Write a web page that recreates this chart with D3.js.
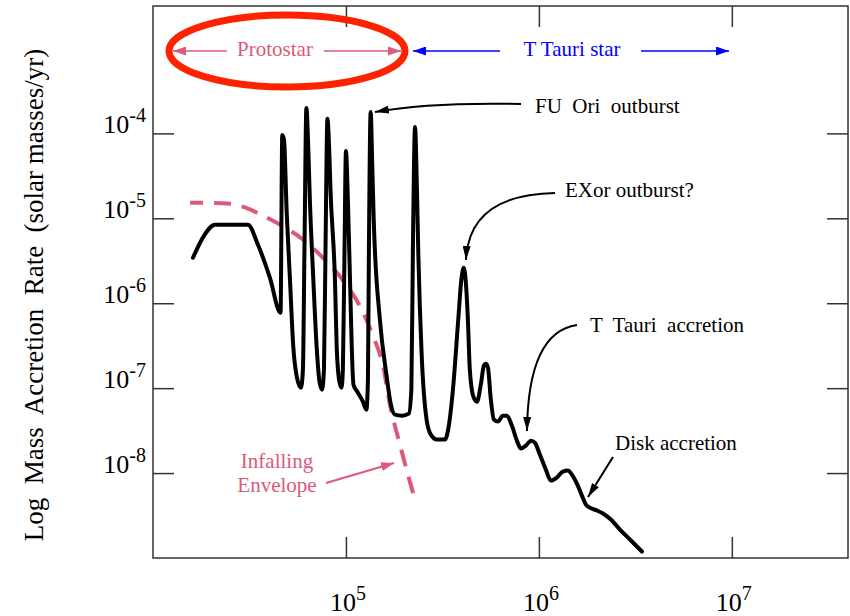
<!DOCTYPE html>
<html>
<head>
<meta charset="utf-8">
<script src="https://cdn.jsdelivr.net/npm/d3@7"></script>
<style>
    body { margin: 0; background: #fff; }
    text { font-family: "Liberation Serif", "Times New Roman", serif; }
</style>
</head>
<body>
<div id="chart"></div>
<script>
// black curve: log10(years), log10(solar masses / yr)
const accLogT = [
    4.207, 4.264, 4.321, 4.492, 4.544, 4.606, 4.661,
    4.670, 4.679, 4.693, 4.710, 4.727, 4.746, 4.767,
    4.777, 4.785, 4.795, 4.805, 4.813, 4.831, 4.848, 4.863, 4.876,
    4.886, 4.894, 4.904, 4.915, 4.920, 4.943, 4.952, 4.966, 4.977,
    4.984, 4.992, 5.000, 5.010, 5.021, 5.030, 5.039, 5.062, 5.088, 5.106,
    5.114, 5.119, 5.128, 5.137, 5.144, 5.176, 5.211, 5.233, 5.254, 5.290, 5.326,
    5.339, 5.347, 5.358, 5.368, 5.375, 5.392, 5.418, 5.440, 5.472, 5.513,
    5.534, 5.556, 5.582, 5.598, 5.611, 5.624, 5.632, 5.642, 5.660, 5.679,
    5.699, 5.715, 5.725, 5.736, 5.751, 5.767, 5.788, 5.813, 5.834, 5.860,
    5.886, 5.907, 5.933, 5.959, 5.979, 6.005, 6.036, 6.062, 6.093, 6.124,
    6.150, 6.171, 6.197, 6.223, 6.244, 6.264, 6.301, 6.332, 6.373, 6.420,
    6.477, 6.534
];
const accLogRate = [
    -5.465, -5.206, -5.076, -5.076, -5.312, -5.700, -6.112,
    -4.018, -4.076, -4.935, -5.724, -6.508, -6.876, -6.994,
    -6.782, -5.371, -3.700, -4.194, -4.782, -5.724, -6.508, -6.924, -7.018,
    -6.782, -5.371, -3.829, -4.312, -4.665, -5.724, -6.508, -6.924, -6.994,
    -6.782, -5.488, -4.206, -4.782, -5.724, -6.508, -6.959, -7.053, -7.159, -7.253,
    -6.900, -5.371, -3.747, -4.429, -5.018, -6.194, -6.861, -7.194, -7.312, -7.324, -7.300,
    -7.018, -5.371, -3.924, -4.665, -5.406, -6.582, -7.371, -7.547, -7.606, -7.606,
    -7.429, -6.979, -6.194, -5.724, -5.582, -5.841, -6.194, -6.782, -7.096, -7.159,
    -6.959, -6.735, -6.712, -6.759, -7.135, -7.371, -7.394, -7.324, -7.324, -7.441,
    -7.618, -7.712, -7.676, -7.618, -7.641, -7.782, -7.959, -8.088, -8.053, -7.982,
    -7.971, -8.018, -8.124, -8.265, -8.371, -8.406, -8.441, -8.476, -8.547, -8.665,
    -8.794, -8.924
];

// pink dashed infalling envelope
const envLogT = [4.192, 4.295, 4.408, 4.485, 4.571, 4.675, 4.779, 4.882, 4.986,
    5.073, 5.141, 5.193, 5.228, 5.280, 5.321, 5.358];
const envLogRate = [-4.818, -4.818, -4.829, -4.880, -4.971, -5.096, -5.253, -5.468, -5.735,
    -6.038, -6.391, -6.744, -7.194, -7.665, -8.018, -8.312];

const xTicks = [1e5, 1e6, 1e7];
const xTickExp = ["5", "6", "7"];
const yTicks = [1e-4, 1e-5, 1e-6, 1e-7, 1e-8];
const yTickExp = ["-4", "-5", "-6", "-7", "-8"];

const width = 850;
const height = 616;
const margin = { top: 6, right: 2, bottom: 58, left: 153 };

const pink = "#dc5a78";

const svg = d3.select("#chart")
    .append("svg")
    .attr("width", width)
    .attr("height", height);

const x = d3.scaleLog()
    .domain([1e4, 4e7])
    .range([margin.left, width - margin.right]);

const y = d3.scaleLog()
    .domain([1e-9, Math.pow(10, -2.5)])
    .range([height - margin.bottom, margin.top]);

const defs = svg.append("defs");
function marker(id, color, w, h) {
    defs.append("marker")
        .attr("id", id)
        .attr("viewBox", `0 0 ${w} ${h}`)
        .attr("refX", w)
        .attr("refY", h / 2)
        .attr("markerWidth", w)
        .attr("markerHeight", h)
        .attr("markerUnits", "userSpaceOnUse")
        .attr("orient", "auto")
        .append("path")
        .attr("d", `M0,0L${w},${h / 2}L0,${h}Z`)
        .attr("fill", color);
}
marker("headPink", pink, 13, 9);
marker("headBlue", "#0000ff", 13, 9);
marker("headBlack", "#000", 14, 8);

// ticks on all four sides, pointing in
function tickAxis(axis, transform) {
    const g = svg.append("g")
        .attr("transform", transform)
        .call(axis.tickSize(-21).tickFormat(() => ""));
    g.select(".domain").remove();
    g.selectAll(".tick line").attr("stroke", "#333").attr("stroke-width", 1.5);
    return g;
}
tickAxis(d3.axisBottom(x).tickValues(xTicks), `translate(0,${height - margin.bottom})`);
tickAxis(d3.axisTop(x).tickValues(xTicks), `translate(0,${margin.top})`);
tickAxis(d3.axisLeft(y).tickValues(yTicks), `translate(${margin.left},0)`);
tickAxis(d3.axisRight(y).tickValues(yTicks), `translate(${width - margin.right},0)`);

svg.append("rect")
    .attr("x", margin.left)
    .attr("y", margin.top)
    .attr("width", width - margin.right - margin.left)
    .attr("height", height - margin.bottom - margin.top)
    .attr("fill", "none")
    .attr("stroke", "#333")
    .attr("stroke-width", 1.5);

// tick labels 10^n
xTicks.forEach((v, i) => {
    const t = svg.append("text")
        .attr("x", x(v) + 2)
        .attr("y", 611)
        .attr("text-anchor", "middle");
    t.append("tspan").attr("font-size", 26).text("10");
    t.append("tspan").attr("font-size", 20).attr("dy", -11).text(xTickExp[i]);
});
yTicks.forEach((v, i) => {
    const t = svg.append("text")
        .attr("x", 146)
        .attr("y", y(v))
        .attr("text-anchor", "end");
    t.append("tspan").attr("font-size", 26).text("10");
    t.append("tspan").attr("font-size", 20).attr("dy", -11).text(yTickExp[i]);
});

svg.append("text")
    .attr("transform", "translate(43,295) rotate(-90)")
    .attr("text-anchor", "middle")
    .attr("font-size", 27)
    .style("white-space", "pre")
    .text("Log  Mass  Accretion  Rate  (solar masses/yr)");

// curves
const accData = accLogT.map((t, i) => ({ t: Math.pow(10, t), r: Math.pow(10, accLogRate[i]) }));
const envData = envLogT.map((t, i) => ({ t: Math.pow(10, t), r: Math.pow(10, envLogRate[i]) }));

const line = d3.line()
    .x(d => x(d.t))
    .y(d => y(d.r))
    .curve(d3.curveMonotoneX);

svg.append("path")
    .datum(envData)
    .attr("d", line)
    .attr("fill", "none")
    .attr("stroke", pink)
    .attr("stroke-width", 4)
    .attr("stroke-dasharray", "17,11")
    .attr("stroke-dashoffset", 4);

svg.append("path")
    .datum(accData)
    .attr("d", line)
    .attr("fill", "none")
    .attr("stroke", "#000")
    .attr("stroke-width", 4)
    .attr("stroke-linejoin", "round")
    .attr("stroke-linecap", "round");

// annotations
const notes = svg.append("g").attr("font-size", 21);

notes.append("ellipse")
    .attr("cx", 287).attr("cy", 51)
    .attr("rx", 118).attr("ry", 36)
    .attr("fill", "none")
    .attr("stroke", "#ff2200")
    .attr("stroke-width", 7);

function arrow(d, color, head, w) {
    notes.append("path")
        .attr("d", d)
        .attr("fill", "none")
        .attr("stroke", color)
        .attr("stroke-width", w || 1.6)
        .attr("marker-end", `url(#${head})`);
}

notes.append("text").attr("x", 275).attr("y", 56).attr("text-anchor", "middle")
    .attr("fill", pink).text("Protostar");
arrow("M227,51L173,51", pink, "headPink");
arrow("M324,51L401,51", pink, "headPink");

notes.append("text").attr("x", 572).attr("y", 56).attr("text-anchor", "middle")
    .attr("fill", "#0000ff").text("T Tauri star");
arrow("M500,51L413,51", "#0000ff", "headBlue");
arrow("M641,51L729,51", "#0000ff", "headBlue");

notes.append("text").attr("x", 535).attr("y", 113).style("white-space", "pre")
    .text("FU  Ori  outburst");
arrow("M521,104Q430,102 375,112", "#000", "headBlack", 2);

notes.append("text").attr("x", 565).attr("y", 197).text("EXor outburst?");
arrow("M555,193C500,194 468,215 466,260", "#000", "headBlack", 2);

notes.append("text").attr("x", 590).attr("y", 332).style("white-space", "pre")
    .text("T  Tauri  accretion");
arrow("M577,325Q528,332 527,431", "#000", "headBlack", 2);

notes.append("text").attr("x", 615).attr("y", 450).text("Disk accretion");
arrow("M613,457L588,497", "#000", "headBlack", 2);

notes.append("text").attr("x", 277).attr("y", 468).attr("text-anchor", "middle")
    .attr("fill", pink).text("Infalling");
notes.append("text").attr("x", 277).attr("y", 492).attr("text-anchor", "middle")
    .attr("fill", pink).text("Envelope");
arrow("M326,483L394,463", pink, "headPink", 2);
</script>
</body>
</html>
